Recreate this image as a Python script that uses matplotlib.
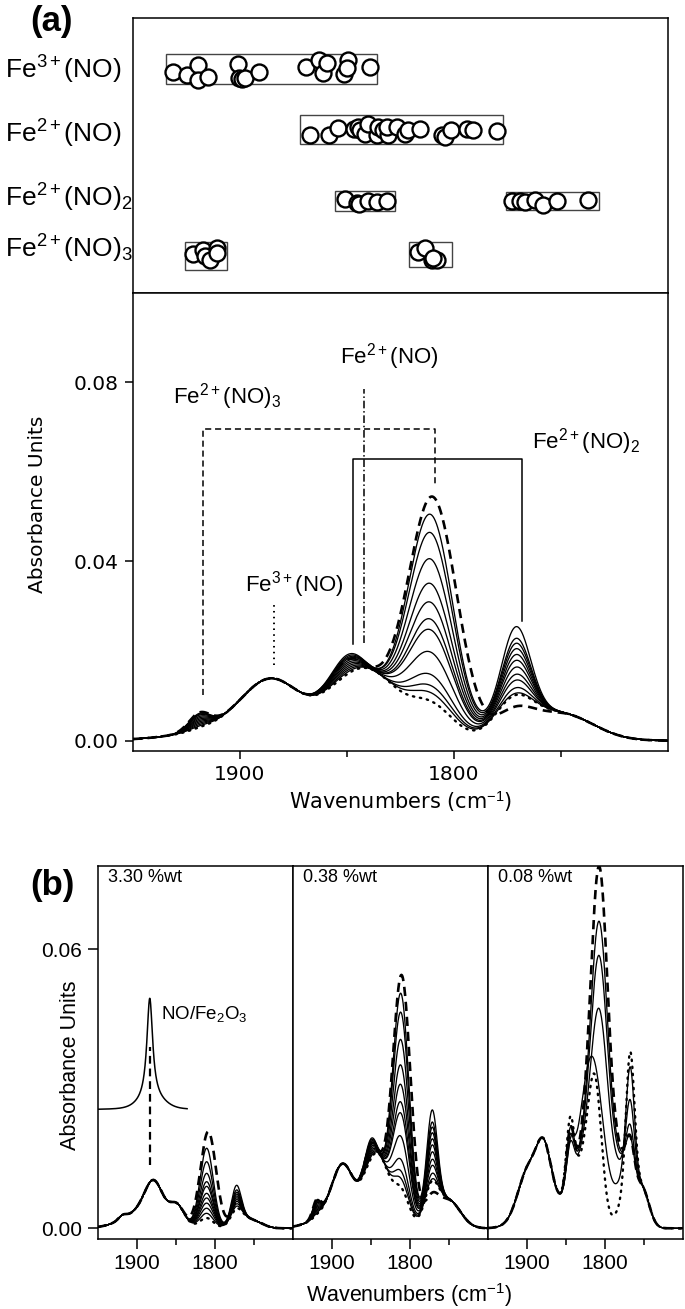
import numpy as np
import matplotlib.pyplot as plt
from matplotlib.patches import Rectangle

plt.rcParams['font.family'] = 'Liberation Sans'
plt.rcParams['mathtext.fontset'] = 'custom'
plt.rcParams['mathtext.rm'] = 'Liberation Sans'
plt.rcParams['mathtext.it'] = 'Liberation Sans:italic'
plt.rcParams['mathtext.bf'] = 'Liberation Sans:bold'
plt.rcParams['axes.linewidth'] = 1.1

# ---------------- top box (a): literature band positions ----------------
species = [r'Fe$^{3+}$(NO)', r'Fe$^{2+}$(NO)', r'Fe$^{2+}$(NO)$_2$', r'Fe$^{2+}$(NO)$_3$']
species_y = [79, 142.5, 206.5, 258]

fe3_no_wn = [1931.2, 1924.9, 1919.5, 1919.5, 1914.8, 1900.8, 1900.3, 1899.2, 1897.7, 1891.0,
             1869.2, 1862.9, 1861.4, 1859.5, 1851.4, 1849.4, 1850.2, 1839.3]
fe3_no_y = [72.3, 75, 65, 80, 76.7, 64.3, 77.7, 79, 78.3, 72.3,
            66.7, 60, 73.3, 63.3, 74.3, 60, 68.3, 66.7]
fe2_no_wn = [1867.3, 1858.3, 1854.1, 1846.7, 1844.7, 1843.9, 1841.6, 1840.0, 1836.1, 1835.4,
             1833.0, 1830.7, 1831.4, 1826.8, 1822.9, 1821.4, 1815.9, 1805.7, 1804.2, 1801.5,
             1794.1, 1791.0, 1779.8]
fe2_no_y = [135, 135, 128.3, 129, 126.7, 130, 134.3, 124.3, 135, 126.7,
            130, 135, 126.7, 126.7, 134.3, 130, 129, 135, 136.7, 130,
            129, 130, 130.7]
fe2_no2_wn = [1850.9, 1845.5, 1844.3, 1840.0, 1836.1, 1831.2,
              1773.0, 1769.2, 1766.8, 1762.1, 1758.3, 1752.0, 1737.2]
fe2_no2_y = [199.3, 203.3, 204.3, 201, 202.3, 201,
             201, 201, 202.3, 200, 205, 201, 200]
fe2_no3_wn = [1921.8, 1917.1, 1916.4, 1914.0, 1910.9, 1910.6,
              1816.7, 1813.6, 1810.4, 1808.1, 1809.7]
fe2_no3_y = [254.3, 250, 255.7, 260, 248.3, 253.3,
             252.3, 248.3, 260, 260, 258.3]

box_wn_hi = [1934.7, 1872.0, 1855.6, 1775.7, 1925.7, 1820.9]
box_wn_lo = [1836.2, 1777.0, 1827.6, 1732.1, 1906.2, 1801.0]
box_y_top = [54.3, 115, 190.7, 191.7, 242.3, 241.7]
box_y_bot = [84.3, 144.3, 210.7, 210, 270, 266.7]

# ---------------- spectra: bands ----------------
# panel (a) and 0.38 %wt: fixed bands
a_fix_c = [1886, 1880, 1858, 1750]
a_fix_s = [13, 30, 8, 15]
a_fix_h = [0.0085, 0.0055, 0.0025, 0.006]
# bands that change, one value per spectrum (first dotted ... last dashed)
a_var_c = [1919, 1849, 1838, 1772, 1771]
a_var_s = [5, 8, 12, 9, 6.5]
a_d = [0.0003, 0.0006, 0.0009, 0.0012, 0.0015, 0.0018, 0.0021, 0.0024, 0.0027, 0.0030, 0.0032, 0.0034, 0.0036]
a_b = [0.0022, 0.0028, 0.0034, 0.0040, 0.0046, 0.0052, 0.0058, 0.0064, 0.0070, 0.0075, 0.0080, 0.0086, 0.0075]
a_c = [0.0125, 0.0122, 0.0119, 0.0116, 0.0113, 0.0110, 0.0107, 0.0104, 0.0101, 0.0098, 0.0095, 0.0091, 0.0090]
a_e = [0.0075, 0.0094, 0.0110, 0.0135, 0.0185, 0.0235, 0.0259, 0.0297, 0.0339, 0.0394, 0.0453, 0.0494, 0.0535]
a_e_c = [1811, 1811, 1811, 1811, 1811, 1811, 1811, 1811, 1811, 1811, 1811, 1811, 1810]
a_e_w = [10.5, 10.5, 10.5, 10.5, 10.5, 10.5, 10.5, 10.5, 10.5, 10.5, 10.5, 10.5, 11.3]
a_g = [0.008, 0.008, 0.008, 0.008, 0.008, 0.008, 0.008, 0.008, 0.008, 0.008, 0.008, 0.008, 0.005]
a_f = [0.0000, 0.0004, 0.0016, 0.0033, 0.0046, 0.0062, 0.0077, 0.0090, 0.0103, 0.0115, 0.0126, 0.0152, 0.0003]
a_kind = ['dot'] + ['solid'] * 11 + ['dash']

# 3.30 %wt
b1_fix_c = [1918, 1878, 1885, 1848, 1770, 1750]
b1_fix_s = [5, 11, 28, 9, 10, 12]
b1_fix_h = [0.0008, 0.0063, 0.0042, 0.0035, 0.0025, 0.0015]
b1_e = [0.0021, 0.0031, 0.0042, 0.0053, 0.0064, 0.0074, 0.0089, 0.0099, 0.0117, 0.0142, 0.0171, 0.0207]
b1_e_c = [1810, 1810, 1810, 1810, 1810, 1810, 1810, 1810, 1810, 1810, 1810, 1808]
b1_e_w = [8.5, 8.5, 8.5, 8.5, 8.5, 8.5, 8.5, 8.5, 8.5, 8.5, 8.5, 10]
b1_f = [0.0015, 0.0020, 0.0025, 0.0030, 0.0034, 0.0038, 0.0042, 0.0046, 0.0050, 0.0055, 0.0065, 0.0030]
b1_kind = ['dot'] + ['solid'] * 10 + ['dash']
# NO/Fe2O3 reference spectrum
ref_base = 0.0255
ref_peak = 1883
ref_hwhm = 4.5
ref_height = 0.022
ref_wing = 0.002
ref_wn_end = 1835

# 0.08 %wt
b3_fix_c = [1878, 1880, 1900, 1828, 1752]
b3_fix_s = [9, 22, 12, 14, 9]
b3_fix_h = [0.0095, 0.0085, 0.007, 0.013, 0.0085]
b3_e = [0.026, 0.0286, 0.0426, 0.0539, 0.0612, 0.073]
b3_e_c = [1812, 1813, 1806.5, 1806.5, 1806.5, 1806.5]
b3_e_w = [8.5, 13, 11, 11, 11, 11]
b3_h = [0.0, 0.0017, 0.0048, 0.0060, 0.0066, 0.0070]
b3_f = [0.0322, 0.0264, 0.0187, 0.0131, 0.0105, 0.0105]
b3_b = [0.0150, 0.0085, 0.0095, 0.0110, 0.0125, 0.0125]
b3_g = [0.005, 0.008, 0.008, 0.008, 0.008, 0.008]
b3_kind = ['dot', 'solid', 'solid', 'solid', 'solid', 'dash']

panel_b_titles = ['3.30 %wt', '0.38 %wt', '0.08 %wt']

# assignment markers in (a): wavenumber and heights
fe2_no3_mark = [1917.5, 1809]
fe2_no3_low = [0.0101, 0.057]
fe2_no3_top = 0.0695
fe2_no2_mark = [1847, 1768]
fe2_no2_low = [0.0216, 0.0268]
fe2_no2_top = 0.0628
fe2_no_mark = 1842
fe2_no_span = [0.0217, 0.0785]
fe3_no_mark = 1884
fe3_no_span = [0.0168, 0.031]


def band_sum(wn, centres, widths, heights):
    total = np.zeros_like(wn)
    for c, s, h in zip(centres, widths, heights):
        total += h * np.exp(-0.5 * ((wn - c) / s) ** 2)
    return total


def draw(ax, x, y, kind):
    if kind == 'dot':
        ax.plot(x, y, color='k', lw=1.7, dashes=(0.6, 2.4), dash_capstyle='round', zorder=3)
    elif kind == 'dash':
        ax.plot(x, y, color='k', lw=1.9, dashes=(3.5, 2.2), zorder=4)
    else:
        ax.plot(x, y, color='k', lw=0.95, zorder=2)


def series_a(i):
    y = band_sum(wn, a_fix_c, a_fix_s, a_fix_h)
    y = y + band_sum(wn, a_var_c, a_var_s, [a_d[i], a_b[i], a_c[i], a_g[i], a_f[i]])
    return y + band_sum(wn, [a_e_c[i]], [a_e_w[i]], [a_e[i]])


W, H = 685, 1309
fig = plt.figure(figsize=(W / 100, H / 100), dpi=100)


def px_axes(x0, y0, x1, y1):
    return fig.add_axes([x0 / W, 1 - y1 / H, (x1 - x0) / W, (y1 - y0) / H])


wn = np.linspace(1950, 1700, 900)

# ---------- (a) top box ----------
axt = px_axes(133, 18, 668, 293)
axt.set_xlim(1950, 1700)
axt.set_ylim(293, 18)
axt.set_xticks([])
axt.set_yticks([])
for xs, ys in [(fe3_no_wn, fe3_no_y), (fe2_no_wn, fe2_no_y), (fe2_no2_wn, fe2_no2_y), (fe2_no3_wn, fe2_no3_y)]:
    axt.plot(xs, ys, 'o', ms=11.5, mfc='white', mec='black', mew=1.7, ls='none', zorder=3)
for hi, lo, t, b in zip(box_wn_hi, box_wn_lo, box_y_top, box_y_bot):
    axt.add_patch(Rectangle((hi, t), lo - hi, b - t, fill=False, ec='#444444', lw=1.0, zorder=2))
for lab, yy in zip(species, species_y):
    fig.text(5 / W, 1 - yy / H, lab, fontsize=19, ha='left', va='baseline')
fig.text(30 / W, 1 - 22 / H, '(a)', fontsize=25, fontweight='bold', ha='left', va='center')

# ---------- (a) spectra ----------
ax = px_axes(133, 293, 668, 751)
for i in range(len(a_e)):
    draw(ax, wn, series_a(i), a_kind[i])
ax.set_xlim(1950, 1700)
ax.set_ylim(-0.0023, 0.0999)
ax.set_xticks([1900, 1800])
ax.set_xticks([1850, 1750], minor=True)
ax.set_yticks([0.0, 0.04, 0.08])
ax.set_yticklabels(['0.00', '0.04', '0.08'])
ax.tick_params(which='major', length=6, width=1.1, labelsize=14.5, pad=4)
ax.tick_params(which='minor', length=4, width=1.1)
for lab in ax.get_xticklabels() + ax.get_yticklabels():
    lab.set_fontfamily('DejaVu Sans')
ax.set_xlabel(r'Wavenumbers (cm$^{-1}$)', fontsize=15, fontfamily='DejaVu Sans')
ax.set_ylabel('Absorbance Units', fontsize=14.5, fontfamily='DejaVu Sans')
ax.yaxis.set_label_coords(-0.161, 0.539)
ax.xaxis.set_label_coords(0.5, -0.083)

# assignment brackets
ax.plot([fe2_no3_mark[0], fe2_no3_mark[0], fe2_no3_mark[1], fe2_no3_mark[1]],
        [fe2_no3_low[0], fe2_no3_top, fe2_no3_top, fe2_no3_low[1]],
        color='k', lw=1.1, dashes=(4, 2.5))
ax.plot([fe2_no2_mark[0], fe2_no2_mark[0], fe2_no2_mark[1], fe2_no2_mark[1]],
        [fe2_no2_low[0], fe2_no2_top, fe2_no2_top, fe2_no2_low[1]],
        color='k', lw=1.1)
ax.plot([fe2_no_mark, fe2_no_mark], fe2_no_span, color='k', lw=1.1, dashes=(5, 1.8, 1, 1.8))
ax.plot([fe3_no_mark, fe3_no_mark], fe3_no_span, color='k', lw=1.4, dashes=(0.8, 2.2))
ax.text(1853.5, 0.0841, r'Fe$^{2+}$(NO)', fontsize=16, ha='left', va='baseline')
ax.text(1931.5, 0.0752, r'Fe$^{2+}$(NO)$_3$', fontsize=16, ha='left', va='baseline')
ax.text(1763.5, 0.0652, r'Fe$^{2+}$(NO)$_2$', fontsize=16, ha='left', va='baseline')
ax.text(1897.8, 0.0333, r'Fe$^{3+}$(NO)', fontsize=16, ha='left', va='baseline')

# ---------- (b) ----------
fig.text(30 / W, 1 - 886 / H, '(b)', fontsize=25, fontweight='bold', ha='left', va='center')
axes_b = []
for k in range(3):
    x0 = 97.5 + k * 195
    axb = px_axes(x0, 866, x0 + 195, 1239)
    axb.set_xlim(1950, 1700)
    axb.set_ylim(-0.0023, 0.0779)
    axb.set_xticks([1900, 1800])
    axb.set_xticks([1850, 1750], minor=True)
    axb.tick_params(which='major', length=7, width=1.1, labelsize=15, pad=4)
    axb.tick_params(which='minor', length=4, width=1.1)
    if k == 0:
        axb.set_yticks([0.0, 0.06])
        axb.set_yticklabels(['0.00', '0.06'])
        axb.set_ylabel('Absorbance Units', fontsize=15.5)
        axb.yaxis.set_label_coords(-0.085, 0.466)
    else:
        axb.set_yticks([])
    axb.text(0.054, 0.992, panel_b_titles[k], transform=axb.transAxes, fontsize=13, ha='left', va='top')
    axes_b.append(axb)

# 3.30 %wt
axb = axes_b[0]
for i in range(len(b1_e)):
    y = band_sum(wn, b1_fix_c, b1_fix_s, b1_fix_h)
    y = y + band_sum(wn, [b1_e_c[i], 1772], [b1_e_w[i], 6], [b1_e[i], b1_f[i]])
    draw(axb, wn, y, b1_kind[i])
wn_ref = wn[wn >= ref_wn_end]
ref = ref_base + ref_height / (1 + ((wn_ref - ref_peak) / ref_hwhm) ** 2) \
    + band_sum(wn_ref, [1880], [15], [ref_wing])
axb.plot(wn_ref, ref, color='k', lw=1.1)
axb.plot([ref_peak, ref_peak], [0.0136, 0.039], color='k', lw=1.6, dashes=(3.5, 2.2))
axb.text(1868, 0.046, r'NO/Fe$_2$O$_3$', fontsize=13.5, ha='left', va='center')

# 0.38 %wt (same series as panel a)
axb = axes_b[1]
for i in range(len(a_e)):
    draw(axb, wn, series_a(i), a_kind[i])
axb.set_xlabel(r'Wavenumbers (cm$^{-1}$)', fontsize=15.5)
axb.xaxis.set_label_coords(0.6, -0.113)

# 0.08 %wt
axb = axes_b[2]
for i in range(len(b3_e)):
    y = band_sum(wn, b3_fix_c, b3_fix_s, b3_fix_h)
    y = y + band_sum(wn, [b3_e_c[i], 1785, 1767, 1844, 1775],
                     [b3_e_w[i], 10, 5.5, 5, 10],
                     [b3_e[i], b3_h[i], b3_f[i], b3_b[i], b3_g[i]])
    draw(axb, wn, y, b3_kind[i])

fig.savefig('out.png', dpi=100)
